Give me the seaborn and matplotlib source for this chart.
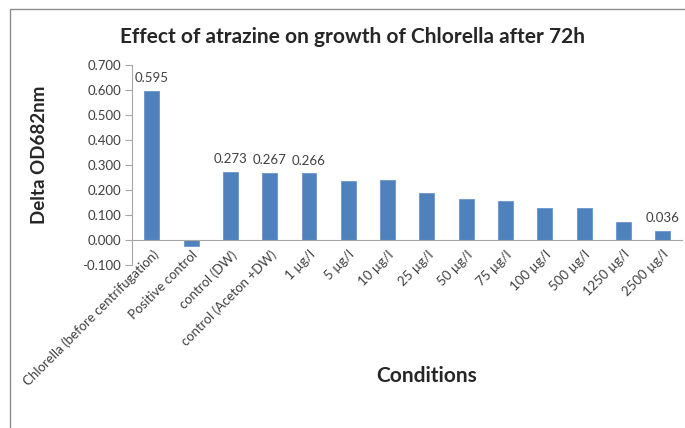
import numpy as np
import pandas as pd
import seaborn as sns
import matplotlib.pyplot as plt
from matplotlib.patches import Rectangle

# values
conditions = [
    "Chlorella (before centrifugation)", "Positive control", "control (DW)",
    "control (Aceton +DW)", "1 µg/l", "5 µg/l", "10 µg/l", "25 µg/l",
    "50 µg/l", "75 µg/l", "100 µg/l", "500 µg/l", "1250 µg/l", "2500 µg/l",
]
delta_od = [0.595, -0.025, 0.273, 0.267, 0.266, 0.237, 0.240, 0.189,
            0.163, 0.155, 0.129, 0.129, 0.073, 0.036]
shown_labels = ["0.595", "", "0.273", "0.267", "0.266", "", "", "",
                "", "", "", "", "", "0.036"]

df = pd.DataFrame({"Conditions": conditions, "Delta": delta_od})

sns.set_style("white")
plt.rcParams['font.family'] = ['Lato', 'DejaVu Sans']

fig = plt.figure(figsize=(6.85, 4.28), dpi=100)
ax = fig.add_axes([0.193, 0.381, 0.803, 0.467])

sns.barplot(data=df, x="Conditions", y="Delta", color="#4F81BD",
            width=0.38, saturation=1, edgecolor="#6A96CC", linewidth=0.6, ax=ax)

ax.bar_label(ax.containers[0], labels=shown_labels, padding=5,
             fontsize=9.5, color="#404040")

ax.spines['bottom'].set_position(('data', 0))
for s in ['left', 'bottom']:
    ax.spines[s].set_color("#A6A6A6")
    ax.spines[s].set_linewidth(0.8)
ax.spines['top'].set_visible(False)
ax.spines['right'].set_visible(False)

ax.set_ylim(-0.1, 0.7)
yt = np.arange(-0.1, 0.71, 0.1)
ax.set_yticks(yt)
ax.set_yticklabels([f"{v:.3f}" for v in yt])
ax.set_xticks(range(len(conditions)))
ax.set_xticklabels(conditions, rotation=45, ha="right", rotation_mode="anchor")
ax.tick_params(axis="y", direction="out", length=5, width=0.8, color="#A6A6A6",
               labelsize=9.5, labelcolor="#404040", left=True, pad=3)
ax.tick_params(axis="x", length=0, labelsize=9.5, labelcolor="#404040", pad=6)

ax.set_xlabel("")
ax.set_ylabel("")
fig.text(0.514, 0.913, "Effect of atrazine on growth of Chlorella after 72h",
         ha="center", va="center", fontsize=15, fontweight="bold")
fig.text(0.058, 0.638, "Delta OD682nm", ha="center", va="center",
         rotation=90, fontsize=13.5, fontweight="bold")
fig.text(0.623, 0.121, "Conditions", ha="center", va="center",
         fontsize=15, fontweight="bold")

# outer chart frame
fig.patches.append(Rectangle((10 / 685, -0.05), 1.2, 0.979 + 0.05,
                             transform=fig.transFigure, fill=False,
                             edgecolor="#8C8C8C", linewidth=1))

plt.savefig("out.png", dpi=100)
